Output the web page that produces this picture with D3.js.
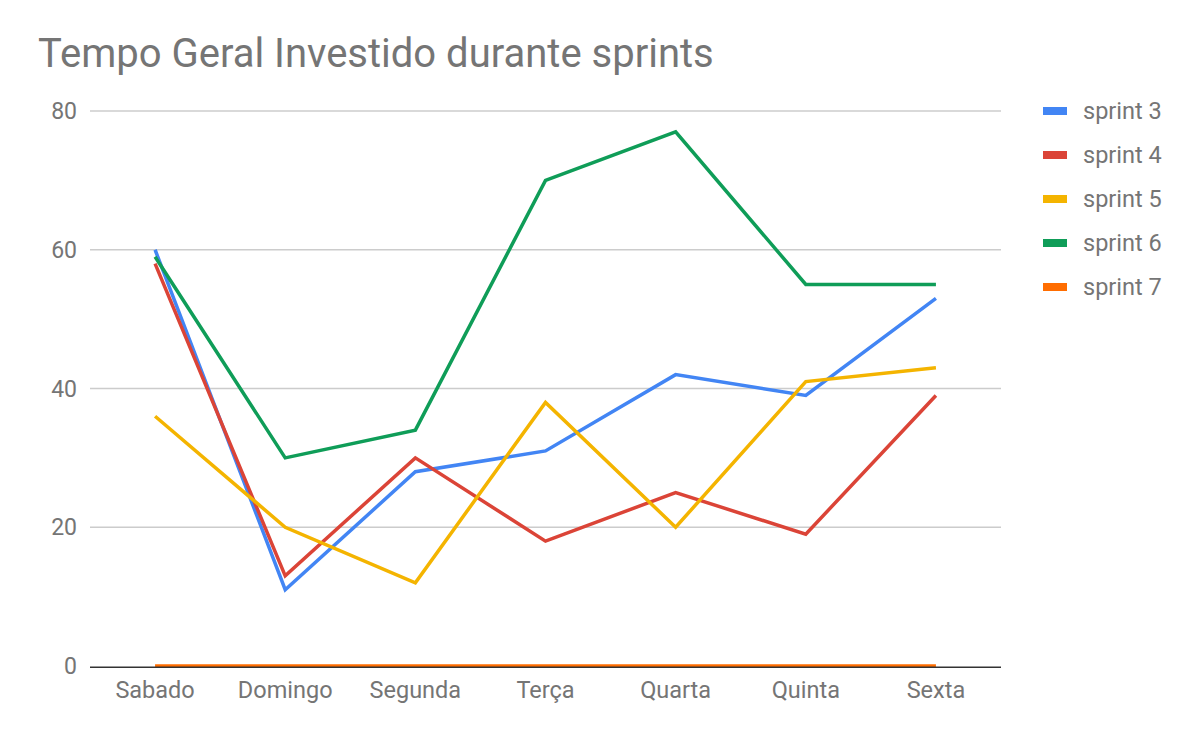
<!DOCTYPE html>
<html><head><meta charset="utf-8">
<script src="https://cdn.jsdelivr.net/npm/d3@7"></script>
<style>body{margin:0;background:#fff}svg{display:block;font-family:Roboto,sans-serif}</style>
</head><body>
<svg id="c" width="1198" height="738"></svg>
<script>
const categories = ["Sabado","Domingo","Segunda","Terça","Quarta","Quinta","Sexta"];
const seriesNames = ["sprint 3","sprint 4","sprint 5","sprint 6","sprint 7"];
const sprint3 = [60,11,28,31,42,39,53];
const sprint4 = [58,13,30,18,25,19,39];
const sprint5 = [36,20,12,38,20,41,43];
const sprint6 = [59,30,34,70,77,55,55];
const sprint7 = [0,0,0,0,0,0,0];
const yTicks = [0,20,40,60,80];
const colors = ["#4285F4","#DB4437","#F4B400","#0F9D58","#FF6D00"];
const title = "Tempo Geral Investido durante sprints";

const series = [sprint3,sprint4,sprint5,sprint6,sprint7];
const svg = d3.select("#c");
const L=90, R=1001, T=111, B=666;
const x = d3.scaleBand().domain(categories).range([L,R]);
const y = d3.scaleLinear().domain([0,80]).range([B,T]);

svg.append("text").attr("x",38).attr("y",67).attr("font-size",40).attr("fill","#757575").text(title);

// gridlines
svg.append("g").selectAll("line").data(yTicks.filter(d=>d!==0)).join("line")
  .attr("x1",L).attr("x2",R).attr("y1",d=>y(d)).attr("y2",d=>y(d))
  .attr("stroke","#cccccc").attr("stroke-width",1.3);

// y labels
svg.append("g").selectAll("text").data(yTicks).join("text")
  .attr("x",77).attr("y",d=>y(d)).attr("dy","0.35em").attr("text-anchor","end")
  .attr("font-size",23).attr("fill","#757575").text(d=>d);

// x labels
svg.append("g").selectAll("text").data(categories).join("text")
  .attr("x",d=>x(d)+x.bandwidth()/2).attr("y",698).attr("text-anchor","middle")
  .attr("font-size",23.5).attr("fill","#757575").text(d=>d);

const line = d3.line().x((d,i)=>x(categories[i])+x.bandwidth()/2).y(d=>y(d));
svg.append("g").selectAll("path").data(series).join("path")
  .attr("d",line).attr("fill","none").attr("stroke",(d,i)=>colors[i])
  .attr("stroke-width",3.5).attr("stroke-linejoin","miter");

// baseline
svg.append("line").attr("x1",L).attr("x2",R).attr("y1",y(0)+1.2).attr("y2",y(0)+1.2)
  .attr("stroke","#333333").attr("stroke-width",1.4);

// legend
const lg = svg.append("g").selectAll("g").data(seriesNames).join("g")
  .attr("transform",(d,i)=>`translate(1043,${111+i*44})`);
lg.append("rect").attr("x",0).attr("y",-4).attr("width",24).attr("height",8).attr("fill",(d,i)=>colors[i]);
lg.append("text").attr("x",40).attr("dy","0.35em").attr("font-size",23.5).attr("fill","#757575").text(d=>d);
</script>
</body></html>
